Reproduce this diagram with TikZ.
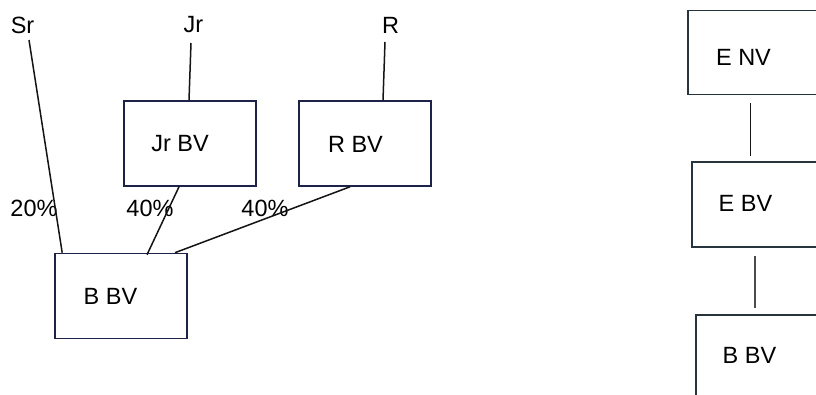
\documentclass[tikz,border=0pt]{standalone}
\usepackage{fontspec}
\setmainfont{Liberation Sans}
\usetikzlibrary{calc}
\definecolor{boxc}{RGB}{28,34,72}
\definecolor{boxg}{RGB}{40,52,60}
\definecolor{linkc}{RGB}{20,20,20}
\newcommand\lbfont{\fontsize{23.5}{27}\selectfont}
\begin{document}
\begin{tikzpicture}[x=1pt,y=-1pt,
  box/.style={draw=boxc, line width=1.6pt, minimum width=132pt, minimum height=85pt, inner sep=0pt},
  gbox/.style={box, draw=boxg},
  lbl/.style={inner sep=0pt, font=\lbfont},
  link/.style={line width=1.5pt, draw=linkc},
  glink/.style={link, draw=black!70}]
\clip (0,0) rectangle (816,394);
\fill[white] (0,0) rectangle (816,394);

% owners
\node[lbl] (sr) at (22.5,25) {Sr};
\node[lbl] (jr) at (193.5,25) {Jr};
\node[lbl] (r)  at (390.5,25) {R};

% holding boxes
\node[box] (jrbv) at (190,143.5) {};
\node[box] (rbv)  at (365,143.5) {};
\node[box] (bbv)  at (121,296) {};
\node[lbl] at (180,144) {Jr BV};
\node[lbl] at (355.5,144) {R BV};
\node[lbl] at (110.5,296) {B BV};

% shares
\node[lbl] (p1) at (34,208) {20\%};
\node[lbl] (p2) at (150,208) {40\%};
\node[lbl] (p3) at (265,208) {40\%};

\draw[link] ($(sr.center)+(6.5,15)$) -- ($(bbv.north west)+(8,0)$);
\draw[link] ($(jr.center)+(-2.5,18)$) -- ($(jrbv.north)+(-1,0)$);
\draw[link] ($(r.center)+(-5.5,17)$) -- ($(rbv.north)+(18,0)$);
\draw[link] ($(jrbv.south)+(-11,0)$) -- ($(bbv.north)+(26,2)$);
\draw[link] ($(rbv.south)+(-15,0)$) -- ($(bbv.north)+(54,0)$);

% chain on the right
\node[gbox, minimum height=84pt] (env) at (754,52.5) {};
\node[gbox] (ebv) at (758,204.5) {};
\node[gbox] (bbvr) at (762,357.5) {};
\node[lbl] at (743.5,57.5) {E NV};
\node[lbl] at (745.5,203.5) {E BV};
\node[lbl] at (749.5,355) {B BV};

\draw[link] ($(env.south)+(-3.5,8)$) -- ($(ebv.north)+(-7.5,-5)$);
\draw[glink] ($(ebv.south)+(-3,8)$) -- ($(bbvr.north)+(-7,-6)$);
\end{tikzpicture}
\end{document}
